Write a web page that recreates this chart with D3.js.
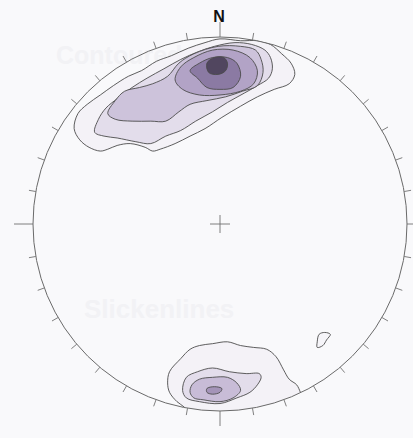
<!DOCTYPE html>
<html lang="en">
<head>
    <meta charset="UTF-8">
    <title>Stereonet contour plot</title>
    <script src="https://d3js.org/d3.v7.min.js"></script>
    <style>
        body { margin: 0; background: #f9f9fb; }
        svg { display: block; }
        .ghost { font-family: "Liberation Sans", Arial, sans-serif; font-weight: bold; fill: #f2f2f5; }
        .contour { stroke: #4c4c4c; stroke-width: 0.9; }
        .rim { fill: none; stroke: #6a6a6a; stroke-width: 1; }
        .tick { stroke: #707070; stroke-width: 0.9; }
    </style>
</head>
<body>
<div id="chart"></div>
<script>
    // Contour rings in net units (primitive circle radius = 100), x = east, y = north
    const upperRing1 = [[-78,51],[-76,59],[-71,64],[-64,69],[-57,74],[-49,79],[-42,82],[-34,87],[-26,90],[-17,94],[-8,97],[0,99],[11,98],[20,98],[27,96],[33,91],[38,86],[40,80],[37,75],[29,72],[20,68],[11,63],[1,57],[-8,51],[-16,47],[-24,43],[-32,40],[-36,39],[-40,41],[-48,43],[-55,42],[-60,40],[-64,39],[-70,41],[-75,45]];
    const upperRing2 = [[-67,49],[-65,56],[-61,62],[-55,67],[-47,73],[-39,78],[-30,83],[-21,88],[-12,92],[-3,95],[8,97],[17,96],[24,93],[27,89],[28,83],[26,78],[20,74],[13,70],[4,65],[-4,60],[-13,55],[-21,50],[-29,47],[-37,43],[-45,44],[-55,46],[-62,47]];
    const upperRing3 = [[-60,59],[-56,66],[-51,71],[-43,73],[-36,75],[-28,79],[-22,86],[-14,91],[-1,95],[11,95],[19,93],[22,88],[23,81],[20,74],[12,71],[3,68],[-7,66],[-16,64],[-22,60],[-29,55],[-37,55],[-47,55],[-56,56]];
    const upperRing4 = [[-24,77],[-21,84],[-14,89],[-4,93],[7,93],[16,89],[20,82],[18,75],[11,71],[0,69],[-11,69],[-20,72]];
    const upperRing5 = [[-16,82],[-11,86],[-4,89],[4,89],[9,86],[11,79],[7,73],[0,72],[-7,73],[-12,78]];
    const upperRing6 = [[-7,86],[-3,89],[2,89],[4,86],[3,82],[-1,80],[-6,81]];
    const lowerRing1 = [[-28,-85],[-27,-79],[-21,-72],[-16,-67],[-11,-65],[-4,-64],[4,-63],[11,-65],[18,-66],[25,-67],[30,-71],[34,-78],[37,-83],[41,-86],[43,-90],[45,-95],[0,-105],[-15,-103],[-19,-98],[-23,-95],[-27,-90]];
    const lowerRing2 = [[-20,-89],[-18,-82],[-12,-79],[-4,-77],[5,-79],[14,-80],[21,-80],[22,-82],[20,-86],[16,-90],[9,-93],[0,-96],[-11,-95],[-18,-93]];
    const lowerRing3 = [[-16,-90],[-15,-86],[-11,-83],[-4,-82],[4,-82],[9,-85],[11,-89],[7,-93],[0,-95],[-9,-94],[-14,-93]];
    const lowerRing4 = [[-7,-88],[-3,-87],[1,-88],[0,-90],[-4,-91],[-7,-90]];
    const eastBlob = [[52,-63],[53,-59],[56,-58],[59,-59],[57,-62],[55,-65],[52,-66]];

    const upperRings = [upperRing1, upperRing2, upperRing3, upperRing4, upperRing5, upperRing6];
    const lowerRings = [lowerRing1, lowerRing2, lowerRing3, lowerRing4];
    const levelColors = ["#f4f2f7", "#e3ddeb", "#cdc3db", "#b2a3c6", "#8b7aa3", "#51465f"];
    const lowerColors = ["#f4f2f7", "#e3ddeb", "#c8bcd7", "#a494b8"];
    const tickAzimuths = d3.range(0, 360, 10);
    const northLabel = "N";

    const W = 413, H = 438;
    const cx = 220, cy = 224, R = 187;

    const svg = d3.select("#chart").append("svg")
        .attr("width", W).attr("height", H);

    svg.append("rect").attr("width", W).attr("height", H).attr("fill", "#f9f9fb");

    // faint show-through text from the page behind
    svg.append("text").attr("class", "ghost").attr("x", 56).attr("y", 64)
        .attr("font-size", 25).text("Contoured poles to");
    svg.append("text").attr("class", "ghost").attr("x", 84).attr("y", 318)
        .attr("font-size", 26).text("Slickenlines");

    const x = d3.scaleLinear().domain([-100, 100]).range([cx - R, cx + R]);
    const y = d3.scaleLinear().domain([-100, 100]).range([cy + R, cy - R]);

    const line = d3.line()
        .x(d => x(d[0]))
        .y(d => y(d[1]))
        .curve(d3.curveCatmullRomClosed.alpha(0.5));

    svg.append("clipPath").attr("id", "net")
        .append("circle").attr("cx", cx).attr("cy", cy).attr("r", R);

    const g = svg.append("g").attr("clip-path", "url(#net)");

    g.selectAll(".up").data(upperRings).enter().append("path")
        .attr("class", "contour up")
        .attr("d", line)
        .attr("fill", (d, i) => levelColors[i])
        .attr("stroke-width", (d, i) => i >= 4 ? 1.3 : 0.9)
        .attr("stroke", (d, i) => i >= 4 ? "#2e2e2e" : "#4c4c4c");

    g.selectAll(".low").data(lowerRings).enter().append("path")
        .attr("class", "contour low")
        .attr("d", line)
        .attr("fill", (d, i) => lowerColors[i])
        .attr("stroke", (d, i) => i >= 3 ? "#2e2e2e" : "#4c4c4c");

    g.append("path").attr("class", "contour")
        .attr("d", line(eastBlob))
        .attr("fill", "#f6f5f9");

    // primitive circle
    svg.append("circle").attr("class", "rim")
        .attr("cx", cx).attr("cy", cy).attr("r", R);

    // azimuth ticks every 10 degrees, longer at the cardinal points
    svg.append("g").selectAll("line").data(tickAzimuths).enter().append("line")
        .attr("class", "tick")
        .each(function(az) {
            const a = az * Math.PI / 180;
            const len = az % 90 === 0 ? (az === 270 ? 19 : 15) : 7;
            d3.select(this)
                .attr("x1", cx + R * Math.sin(a)).attr("y1", cy - R * Math.cos(a))
                .attr("x2", cx + (R + len) * Math.sin(a)).attr("y2", cy - (R + len) * Math.cos(a));
        });

    // centre cross
    svg.append("line").attr("class", "tick")
        .attr("x1", cx - 10).attr("x2", cx + 10).attr("y1", cy).attr("y2", cy);
    svg.append("line").attr("class", "tick")
        .attr("x1", cx).attr("x2", cx).attr("y1", cy - 9).attr("y2", cy + 9);

    svg.append("text")
        .attr("x", cx - 1).attr("y", cy - R - 15)
        .attr("text-anchor", "middle")
        .attr("font-family", "Liberation Sans, Arial, sans-serif")
        .attr("font-weight", "bold")
        .attr("font-size", 16)
        .attr("fill", "#111")
        .text(northLabel);
</script>
</body>
</html>
